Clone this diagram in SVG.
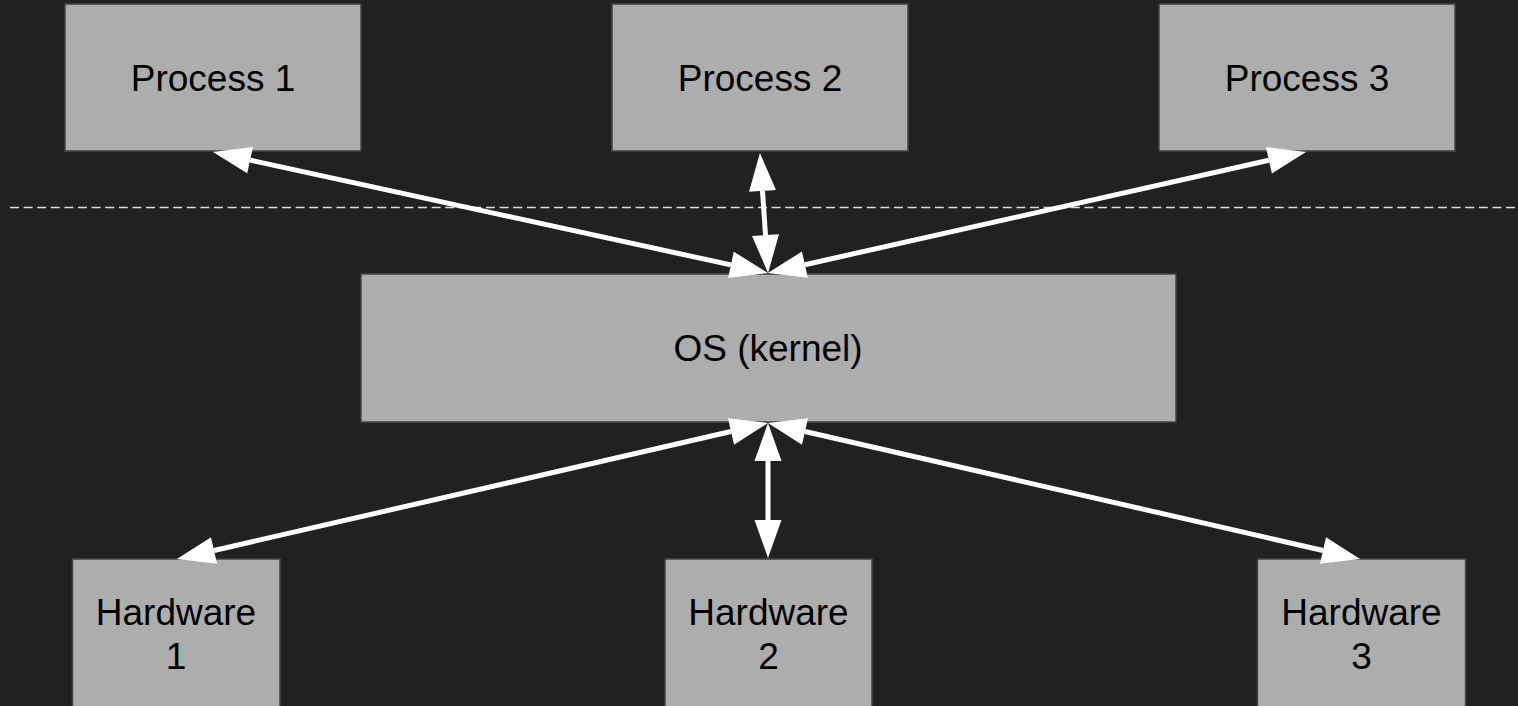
<svg xmlns="http://www.w3.org/2000/svg" width="1518" height="706" viewBox="0 0 1518 706">
<style>
.box{fill:#adadad;stroke:#444444;stroke-width:1.5}
.lbl{font-family:"Liberation Sans",Arial,sans-serif;font-size:37px;fill:#000000;text-anchor:middle}
.conn{stroke:#ffffff;stroke-width:5;fill:none;marker-start:url(#ah);marker-end:url(#ah)}
</style>
<defs>
<marker id="ah" markerUnits="userSpaceOnUse" viewBox="0 -14 38 28" refX="0" refY="0" markerWidth="38" markerHeight="28" orient="auto-start-reverse" overflow="visible">
<path d="M0,-13.5 L38,0 L0,13.5 Z" fill="#ffffff"/>
</marker>
</defs>
<rect width="1518" height="706" fill="#212121"/>
<line x1="10" y1="207.5" x2="1518" y2="207.5" stroke="#dddddd" stroke-width="1.6" stroke-dasharray="9 4.6"/>
<g id="process1"><rect class="box" x="65" y="4" width="296" height="147"/><text class="lbl" x="213" y="91">Process 1</text></g>
<g id="process2"><rect class="box" x="612" y="4" width="296" height="147"/><text class="lbl" x="760" y="91">Process 2</text></g>
<g id="process3"><rect class="box" x="1159" y="4" width="296" height="147"/><text class="lbl" x="1307" y="91">Process 3</text></g>
<g id="os"><rect class="box" x="361" y="274" width="815" height="148"/><text class="lbl" x="768" y="361">OS (kernel)</text></g>
<g id="hardware1"><rect class="box" x="72.5" y="559" width="207.5" height="160"/><text class="lbl" x="176" y="625">Hardware</text><text class="lbl" x="176" y="669">1</text></g>
<g id="hardware2"><rect class="box" x="665" y="559" width="207" height="160"/><text class="lbl" x="768.5" y="625">Hardware</text><text class="lbl" x="768.5" y="669">2</text></g>
<g id="hardware3"><rect class="box" x="1257.5" y="559" width="208" height="160"/><text class="lbl" x="1361.5" y="625">Hardware</text><text class="lbl" x="1361.5" y="669">3</text></g>
<g id="connectors">
<line class="conn" x1="250.1" y1="160.1" x2="730.9" y2="264.9"/>
<line class="conn" x1="762.5" y1="190.9" x2="765.5" y2="235.1"/>
<line class="conn" x1="1268.9" y1="160.3" x2="804.9" y2="264.7"/>
<line class="conn" x1="731.0" y1="431.5" x2="214.0" y2="550.5"/>
<line class="conn" x1="768" y1="461" x2="768" y2="520"/>
<line class="conn" x1="805.0" y1="431.5" x2="1323.0" y2="550.5"/>
</g>
</svg>
